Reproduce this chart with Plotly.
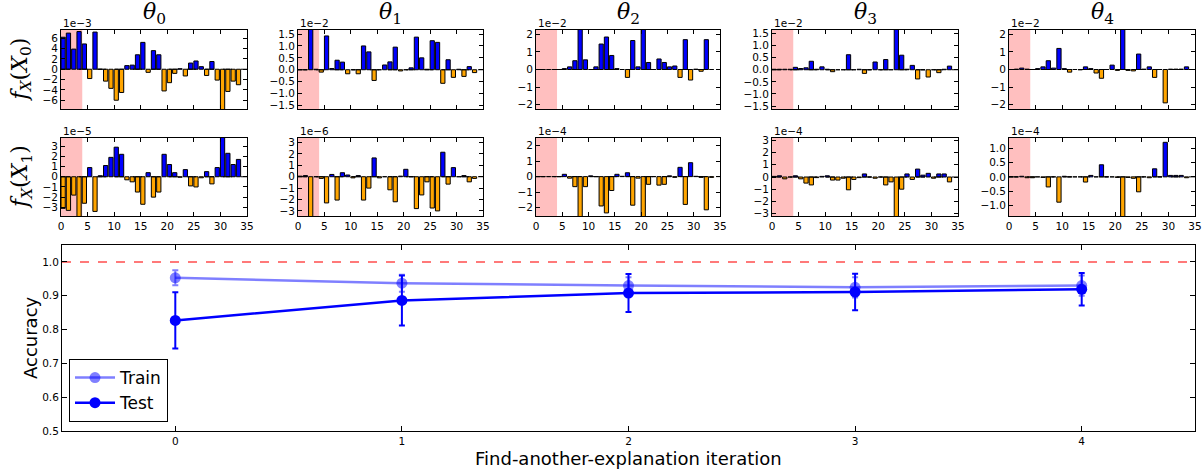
import numpy as np
import plotly.graph_objects as go

# ---------------- data ----------------
feature_index = list(range(34))
thetas = ["0", "1", "2", "3", "4"]

theta0_X0 = [6.2,7.0,3.9,7.3,4.9,-1.8,7.2,0,-2.3,-3.7,-6.0,-4.5,0.7,0.8,2.8,5.2,-0.6,3.6,2.8,-4.2,-2.6,-0.8,0.1,-1.3,1.2,1.6,0.5,-1.2,1.5,-2.1,-8.0,-4.3,-2.3,-3.0]
theta0_X1 = [-3.1,-3.3,-1.8,-4.0,-2.6,0.9,-3.4,0.1,1.1,1.9,2.9,2.2,-0.3,-0.5,-1.5,-2.7,0.4,-2.0,-1.5,2.2,1.2,0.4,-0.05,0.7,-0.9,-1.0,-0.1,0.5,-0.7,0.9,4.0,2.3,1.2,1.7]
theta1_X0 = [0,0,1.8,0.02,-0.1,1.42,0.05,0.4,0.32,-0.17,0,-0.17,1.0,0.75,-0.45,0,0.2,0.33,0.95,-0.05,0,0.08,1.37,0.5,0.02,1.22,1.15,-0.57,0.42,-0.32,0.02,-0.28,0.13,-0.12]
theta1_X1 = [0.05,0.1,-3.6,0,-0.15,-2.3,0.2,-2.05,0.35,0.15,-0.1,0.1,-2.05,-1.0,1.65,-0.1,0,-1.15,-2.2,0.05,0.65,0,-2.8,-1.6,-0.45,-2.75,-3.0,2.15,-0.65,0.8,0,0.1,-0.45,-0.15]
theta2_X0 = [0,0,0,0,0,0.05,0.15,0.5,2.4,0.55,0,0.15,1.45,1.85,0.8,0.05,0,-0.45,1.65,0.15,2.4,0.4,0,0.6,0.4,0.15,0.2,-0.45,1.7,-0.6,0.02,-0.1,1.7,0]
theta2_X1 = [0,0,0,0,0,0.15,-0.1,-0.65,-2.7,-0.65,0.05,0,-1.9,-2.35,-0.9,0.15,0.02,0.25,-1.85,-0.1,-2.7,-0.5,0,-0.55,-0.5,0.05,-0.05,0.6,-1.8,0.9,0.02,-0.05,-2.15,-0.05]
theta3_X0 = [0.02,0.02,0.02,0.02,0.1,0.05,0.08,0.35,0.02,0.12,0.02,-0.08,0,0,0.62,0,0.02,-0.15,0,0.32,0,0.42,0,1.8,0.6,0.02,0.18,-0.38,0,-0.3,0,-0.12,0.02,0.15]
theta3_X1 = [0.05,0.1,-0.15,0,0.1,-0.15,-0.5,-0.65,-0.05,0.05,0.1,-0.25,-0.25,-0.1,-1.05,-0.2,-0.05,0.25,0,-0.1,0,-0.65,-0.4,-3.4,-1.0,0.25,-0.2,0.65,0.15,0.3,-0.1,0.25,0.25,-0.4]
theta4_X0 = [0,0.02,0.08,0.02,0,0.05,0.15,0.5,0.08,1.2,0.05,-0.15,0,-0.02,0.15,0.05,-0.2,-0.5,0,0.25,-0.05,2.4,-0.05,-0.08,0.88,0.02,0.15,-0.45,0,-1.9,0.02,0.02,0.02,0.15]
theta4_X1 = [0,0,0.02,-0.03,-0.03,0,-0.02,-0.35,0,-0.88,0.02,0,0,0,-0.18,0.05,0,0.42,0,0,-0.02,-1.45,-0.02,-0.05,-0.52,0,-0.03,0.28,0,1.2,0.05,0.05,0.05,-0.03]

row_X0 = [theta0_X0, theta1_X0, theta2_X0, theta3_X0, theta4_X0]
row_X1 = [theta0_X1, theta1_X1, theta2_X1, theta3_X1, theta4_X1]
exp_X0 = ["1e\u22123", "1e\u22122", "1e\u22122", "1e\u22122", "1e\u22122"]
exp_X1 = ["1e\u22125", "1e\u22126", "1e\u22124", "1e\u22124", "1e\u22124"]
highlight_span = [0, 4]

iterations = [0, 1, 2, 3, 4]
train_acc = [0.953, 0.937, 0.930, 0.925, 0.930]
train_err = [0.022, 0.025, 0.025, 0.03, 0.03]
test_acc = [0.827, 0.886, 0.908, 0.911, 0.919]
test_err = [0.083, 0.074, 0.056, 0.054, 0.048]

# ---------------- layout helpers ----------------
W, H = 1203, 472
def px_x(a, b):
    return [a / W, b / W]
def px_y(top, bottom):
    return [1 - bottom / H, 1 - top / H]

col_px = [(61, 247), (298, 483), (536, 720), (772, 958), (1009, 1195)]
row_px = [(30, 109), (138, 216)]
yranges = [
    [[-7.7, 7.6], [-1.65, 1.67], [-2.25, 2.25], [-1.62, 1.64], [-2.25, 2.25]],
    [[-3.85, 3.8], [-3.45, 3.4], [-2.55, 2.5], [-3.2, 3.2], [-1.36, 1.35]],
]
ytickvals = [
    [[-6, -4, -2, 0, 2, 4, 6], [-1.5, -1.0, -0.5, 0, 0.5, 1.0, 1.5], [-2, -1, 0, 1, 2],
     [-1.5, -1.0, -0.5, 0, 0.5, 1.0, 1.5], [-2, -1, 0, 1, 2]],
    [[-3, -2, -1, 0, 1, 2, 3], [-3, -2, -1, 0, 1, 2, 3], [-2, -1, 0, 1, 2],
     [-3, -2, -1, 0, 1, 2, 3], [-1.0, -0.5, 0, 0.5, 1.0]],
]
ytickfmt = [["d", ".1f", "d", ".1f", "d"], ["d", "d", "d", "d", ".1f"]]

BLUE = "#0000ff"
ORANGE = "#ffa500"
TICKSIZE = 10.5
fig = go.Figure()
layout = dict(
    width=W, height=H, margin=dict(l=0, r=0, t=0, b=0),
    paper_bgcolor="white", plot_bgcolor="white",
    font=dict(family="DejaVu Sans", color="black"),
    showlegend=True, bargap=0,
)
shapes = []
annotations = []

n = 0
for r, rowdata in enumerate([row_X0, row_X1]):
    for c in range(5):
        n += 1
        xa = "xaxis" if n == 1 else f"xaxis{n}"
        ya = "yaxis" if n == 1 else f"yaxis{n}"
        xr = "x" if n == 1 else f"x{n}"
        yr = "y" if n == 1 else f"y{n}"
        vals = rowdata[c]
        colors = [BLUE if v >= 0 else ORANGE for v in vals]
        fig.add_trace(go.Bar(
            x=feature_index, y=vals, width=0.8, offset=0,
            marker=dict(color=colors, line=dict(color="black", width=1)),
            xaxis=xr, yaxis=yr, showlegend=False, hoverinfo="skip",
        ))
        layout[xa] = dict(
            domain=px_x(*col_px[c]), anchor=yr, range=[0, 35],
            tickvals=[0, 5, 10, 15, 20, 25, 30, 35], showticklabels=(r == 1),
            ticks="inside", ticklen=4, tickcolor="black", mirror="ticks",
            showline=True, linecolor="black", linewidth=1, showgrid=False,
            zeroline=False, tickfont=dict(size=TICKSIZE), automargin=False, fixedrange=True,
        )
        layout[ya] = dict(
            domain=px_y(*row_px[r]), anchor=xr, range=yranges[r][c],
            tickvals=ytickvals[r][c], tickformat=ytickfmt[r][c],
            ticks="inside", ticklen=4, tickcolor="black", mirror="ticks",
            showline=True, linecolor="black", linewidth=1, showgrid=False,
            zeroline=False, tickfont=dict(size=TICKSIZE), automargin=False, fixedrange=True,
        )
        shapes.append(dict(type="rect", xref=xr, yref=f"{yr} domain",
                           x0=highlight_span[0], x1=highlight_span[1], y0=0, y1=1,
                           fillcolor="rgba(255,0,0,0.25)", line=dict(width=0), layer="below"))
        shapes.append(dict(type="line", xref=f"{xr} domain", yref=yr,
                           x0=0, x1=1, y0=0, y1=0,
                           line=dict(color="black", width=1, dash="dash"), layer="above"))
        exps = exp_X0 if r == 0 else exp_X1
        annotations.append(dict(text=exps[c], xref="paper", yref="paper",
                                x=col_px[c][0] / W, y=1 - row_px[r][0] / H,
                                xanchor="left", yanchor="bottom", showarrow=False,
                                font=dict(size=TICKSIZE), yshift=-1))
    # row y label
    lab = "<i>f</i><sub><i>X</i></sub>(<i>X</i><sub>%d</sub>)" % r
    annotations.append(dict(text=lab, xref="paper", yref="paper",
                            x=21 / W, y=1 - (row_px[r][0] + row_px[r][1]) / 2 / H,
                            textangle=-90, showarrow=False, xanchor="center", yanchor="middle",
                            font=dict(family="DejaVu Serif", size=22)))

for c in range(5):
    annotations.append(dict(text="<i>\u03b8</i><sub>%s</sub>" % thetas[c], xref="paper", yref="paper",
                            x=(col_px[c][0] + col_px[c][1]) / 2 / W, y=1 - 30 / H,
                            xanchor="center", yanchor="bottom", showarrow=False,
                            font=dict(family="DejaVu Serif", size=22)))

# ---------------- bottom accuracy panel ----------------
fig.add_trace(go.Scatter(
    x=iterations, y=train_acc, name="Train", mode="lines+markers",
    line=dict(color="rgba(0,0,255,0.5)", width=2.5),
    marker=dict(color="rgba(0,0,255,0.5)", size=11, symbol="circle"),
    error_y=dict(type="data", array=train_err, color="rgba(0,0,255,0.5)", thickness=2, width=3),
    xaxis="x11", yaxis="y11",
))
fig.add_trace(go.Scatter(
    x=iterations, y=test_acc, name="Test", mode="lines+markers",
    line=dict(color=BLUE, width=2.5),
    marker=dict(color=BLUE, size=11, symbol="circle"),
    error_y=dict(type="data", array=test_err, color=BLUE, thickness=2, width=3),
    xaxis="x11", yaxis="y11",
))
layout["xaxis11"] = dict(
    domain=px_x(62, 1195), anchor="y11", range=[-0.5, 4.5],
    tickvals=iterations, ticks="inside", ticklen=5, tickcolor="black", mirror="ticks",
    showline=True, linecolor="black", linewidth=1, showgrid=False, zeroline=False,
    tickfont=dict(size=10.5), automargin=False, fixedrange=True,
)
layout["yaxis11"] = dict(
    domain=px_y(245, 431), anchor="x11", range=[0.5, 1.05],
    tickvals=[0.5, 0.6, 0.7, 0.8, 0.9, 1.0], tickformat=".1f",
    ticks="inside", ticklen=5, tickcolor="black", mirror="ticks",
    showline=True, linecolor="black", linewidth=1, showgrid=False, zeroline=False,
    tickfont=dict(size=10.5), automargin=False, fixedrange=True,
)
annotations.append(dict(text="Find-another-explanation iteration", xref="paper", yref="paper",
                        x=(62 + 1195) / 2 / W, y=1 - 458 / H, xanchor="center", yanchor="middle",
                        showarrow=False, font=dict(size=18)))
annotations.append(dict(text="Accuracy", xref="paper", yref="paper",
                        x=30 / W, y=1 - 338 / H, xanchor="center", yanchor="middle",
                        textangle=-90, showarrow=False, font=dict(size=18)))
shapes.append(dict(type="line", xref="x11 domain", yref="y11", x0=0, x1=1, y0=1.0, y1=1.0,
                   line=dict(color="rgba(255,0,0,0.7)", width=1.5, dash="dash"), layer="below"))

layout["legend"] = dict(x=69 / W, y=1 - 422 / H, xanchor="left", yanchor="bottom",
                        bordercolor="black", borderwidth=1, bgcolor="white",
                        font=dict(size=17), itemwidth=40, tracegroupgap=2)
layout["shapes"] = shapes
layout["annotations"] = annotations
fig.update_layout(**layout)

fig.write_html("out.html", config={"displayModeBar": False, "staticPlot": True},
               post_script="document.body.style.margin='0px';document.body.style.overflow='hidden';")
